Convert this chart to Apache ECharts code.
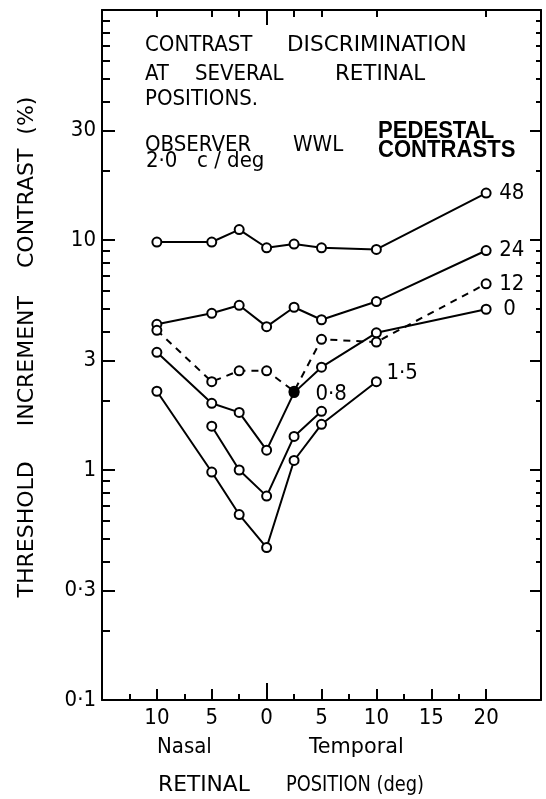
<!DOCTYPE html>
<html>
<head>
<meta charset="utf-8">
<script src="https://cdn.jsdelivr.net/npm/echarts@6/dist/echarts.min.js"></script>
<style>
html, body { margin: 0; padding: 0; background: #fff; }
#chart { width: 546px; height: 799px; }
</style>
</head>
<body>
<div id="chart"></div>
<script>
// retinal position (deg), nasal side negative
const positions = [-10, -5, -2.5, 0, 2.5, 5, 10, 20];
// threshold increment contrast (%) for each pedestal contrast
const ped48 = [9.8, 9.8, 11.1, 9.25, 9.6, 9.25, 9.1, 16.0];
const ped24 = [4.3, 4.8, 5.2, 4.2, 5.1, 4.5, 5.4, 9.0];
const ped12 = [4.05, 2.42, 2.7, 2.7, 2.2, 3.7, 3.6, 6.45];
const ped15 = [2.2, 0.98, 0.64, 0.46, 1.1, 1.58, 2.42, null];
const ped08 = [null, 1.55, 1.0, 0.77, 1.4, 1.8, null, null];
const ped0 = [3.25, 1.95, 1.78, 1.22, 2.17, 2.8, 3.95, 5.0];

const xMajor = [-10, -5, 0, 5, 10, 15, 20];
const xMinor = [-12.5, -7.5, -2.5, 2.5, 7.5, 12.5, 17.5];
const yMajor = [0.1, 0.3, 1, 3, 10, 30];
const yMinor = [0.2, 0.4, 0.5, 0.6, 0.7, 0.8, 0.9, 2, 4, 5, 6, 7, 8, 9, 20, 40, 50, 60, 70, 80, 90];

const FONT = '"DejaVu Sans Condensed", "DejaVu Sans", sans-serif';
const black = { color: '#000', width: 2 };

const pts = (vals) => positions.map((x, i) => [x, vals[i]]).filter(p => p[1] != null);
const fmt = (v) => String(Math.round(v * 10) / 10).replace('.', '\u00b7');

// tick-only axes (value axes sharing the grid)
function xTicks(pos, ticks, len, extra) {
    return Object.assign({
        type: 'value', position: pos, min: -15, max: 25,
        axisLine: { show: false, onZero: false },
        axisTick: { show: true, inside: true, length: len, customValues: ticks, lineStyle: black },
        axisLabel: { show: false },
        splitLine: { show: false }
    }, extra);
}
function yTicks(pos, ticks, len, extra) {
    return Object.assign({
        type: 'value', position: pos, min: -1, max: 2,
        axisLine: { show: false, onZero: false },
        axisTick: { show: true, inside: true, length: len, customValues: ticks.map(Math.log10), lineStyle: black },
        axisLabel: { show: false },
        splitLine: { show: false }
    }, extra);
}

function mk(name, vals, dashed, label) {
    return {
        name: name, type: 'line', xAxisIndex: 0, yAxisIndex: 0,
        data: pts(vals),
        symbol: 'circle', symbolSize: 9,
        itemStyle: { color: '#fff', borderColor: '#000', borderWidth: 2 },
        lineStyle: { color: '#000', width: 2, type: dashed ? [7, 6] : 'solid' },
        endLabel: Object.assign({ show: true, formatter: name, color: '#000', fontSize: 22, fontFamily: FONT, distance: 13 }, label),
        emphasis: { disabled: true },
        z: 3
    };
}

const s0 = mk('0', ped0, false, { offset: [4, 0] });
s0.data = s0.data.map((p, i) => i === 4 ? { value: p, itemStyle: { color: '#000' } } : p);

const word = (text, x, y, extra, sx) => ({
    type: 'text', x: x, y: y, scaleX: sx || 1, silent: true,
    style: Object.assign({ text: text, fill: '#000', font: '22px ' + FONT, align: 'left', verticalAlign: 'middle' }, extra)
});
const bold = { font: 'bold 24px "Liberation Sans", Arial, sans-serif' };

const chart = echarts.init(document.getElementById('chart'), null, { renderer: 'canvas' });
chart.setOption({
    animation: false,
    backgroundColor: '#fff',
    grid: { left: 102, right: 5, top: 10, bottom: 99 },
    xAxis: [
        {
            type: 'value', position: 'bottom', min: -15, max: 25,
            axisLine: { show: true, onZero: false, lineStyle: black },
            axisTick: { show: true, inside: true, length: 11, customValues: xMajor, lineStyle: black },
            axisLabel: { show: true, customValues: xMajor, formatter: v => String(Math.abs(v)), margin: 7, color: '#000', fontSize: 22, fontFamily: FONT },
            splitLine: { show: false }
        },
        xTicks('bottom', xMinor, 6),
        xTicks('bottom', [0], 17),
        xTicks('top', positions, 7, { axisLine: { show: true, onZero: false, lineStyle: black } }),
        xTicks('top', [0], 15)
    ],
    yAxis: [
        { type: 'log', logBase: 10, min: 0.1, max: 100, show: false },
        yTicks('left', yMajor, 13, {
            axisLine: { show: true, onZero: false, lineStyle: black },
            axisLabel: { show: true, customValues: yMajor.map(Math.log10), formatter: v => fmt(Math.pow(10, v)), margin: 6, color: '#000', fontSize: 22, fontFamily: FONT }
        }),
        yTicks('left', yMinor, 8),
        yTicks('right', yMajor, 11, { axisLine: { show: true, onZero: false, lineStyle: black } }),
        yTicks('right', yMinor, 5)
    ],
    series: [
        mk('48', ped48, false, {}),
        mk('24', ped24, false, {}),
        mk('12', ped12, true, {}),
        mk('1\u00b75', ped15, false, { distance: 10, offset: [0, -8] }),
        mk('0\u00b78', ped08, false, { offset: [-19, -17] }),
        s0
    ],
    graphic: [
        word('CONTRAST', 145, 45), word('DISCRIMINATION', 287, 45, null, 1.09),
        word('AT', 145, 74), word('SEVERAL', 195, 74), word('RETINAL', 335, 74, null, 1.08),
        word('POSITIONS.', 145, 99),
        word('OBSERVER', 145, 145), word('WWL', 293, 145),
        word('2\u00b70', 146, 161), word('c / deg', 197, 161),
        word('PEDESTAL', 378, 131, bold, 0.92), word('CONTRASTS', 378, 150, bold, 0.92),
        word('Nasal', 157, 747), word('Temporal', 309, 747, null, 1.05),
        word('RETINAL', 158, 785, null, 1.1), word('POSITION (deg)', 286, 785, null, 0.9),
        {
            type: 'text', x: 27, y: 347, rotation: Math.PI / 2, silent: true,
            style: { text: 'THRESHOLD     INCREMENT    CONTRAST  (%)', fill: '#000', font: '22px "DejaVu Sans", sans-serif', align: 'center', verticalAlign: 'middle' }
        }
    ]
});
</script>
</body>
</html>
